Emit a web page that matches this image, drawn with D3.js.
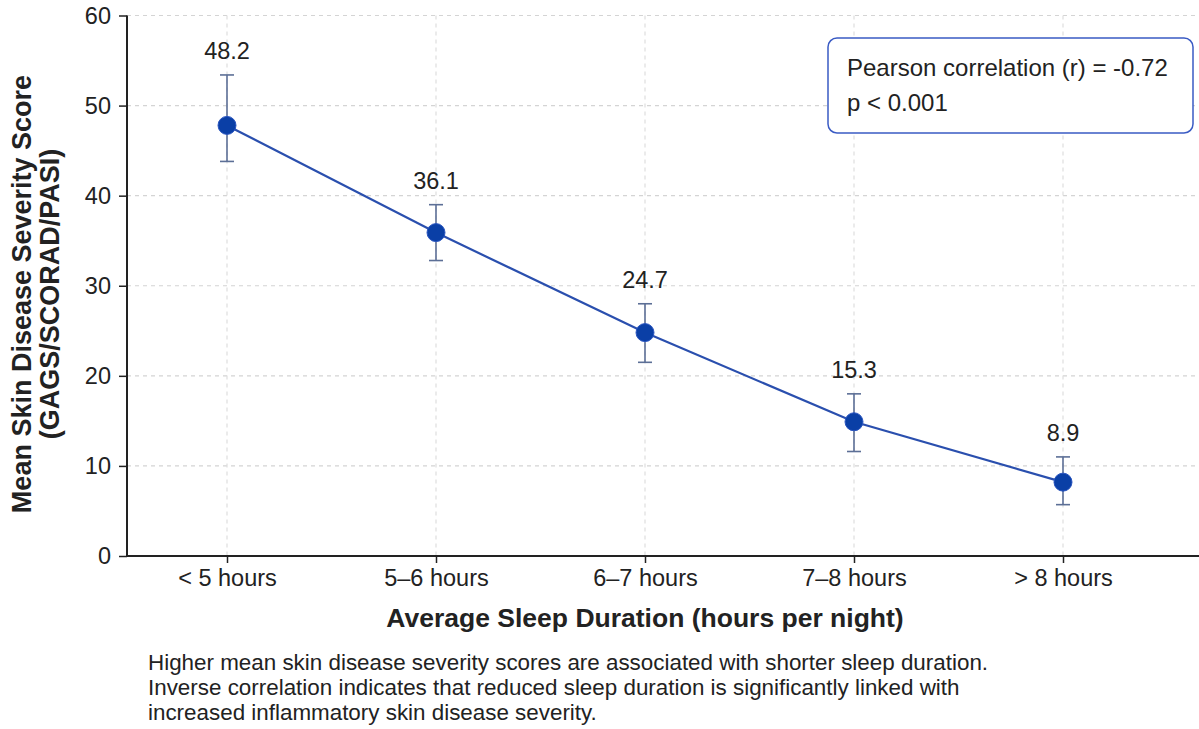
<!DOCTYPE html>
<html>
<head>
<meta charset="utf-8">
<script src="https://cdn.jsdelivr.net/npm/d3@7"></script>
<style>
  html, body { margin: 0; padding: 0; background: #fff; }
  svg { display: block; font-family: "Liberation Sans", Arial, Helvetica, sans-serif; }
</style>
</head>
<body>
<svg id="chart" width="1199" height="729"></svg>
<script>
// ---- data ----
const categories = ["< 5 hours", "5\u20136 hours", "6\u20137 hours", "7\u20138 hours", "> 8 hours"];
const meanScores = [47.8, 35.9, 24.8, 14.9, 8.2];
const valueLabels = ["48.2", "36.1", "24.7", "15.3", "8.9"];
const errUpper = [53.4, 39.0, 28.0, 18.0, 11.0];
const errLower = [43.8, 32.8, 21.5, 11.6, 5.7];
const yTicks = [0, 10, 20, 30, 40, 50, 60];
const annotationLines = ["Pearson correlation (r) = -0.72", "p < 0.001"];
const captionLines = [
  "Higher mean skin disease severity scores are associated with shorter sleep duration.",
  "Inverse correlation indicates that reduced sleep duration is significantly linked with",
  "increased inflammatory skin disease severity."
];
const xTitle = "Average Sleep Duration (hours per night)";
const yTitleLines = ["Mean Skin Disease Severity Score", "(GAGS/SCORAD/PASI)"];

// ---- layout ----
const plotLeft = 127, plotRight = 1199, plotTop = 15.5, plotBottom = 556;
const svg = d3.select("#chart");

const x = d3.scalePoint().domain(categories).range([227, 1063]);
const y = d3.scaleLinear().domain([0, 60]).range([plotBottom, plotTop]);

const data = categories.map((c, i) => ({
  cat: c, mean: meanScores[i], label: valueLabels[i], hi: errUpper[i], lo: errLower[i]
}));

// grid
const grid = svg.append("g").attr("class", "grid");
grid.selectAll("line.h").data(yTicks.filter(t => t > 0)).join("line")
  .attr("x1", plotLeft).attr("x2", plotRight)
  .attr("y1", d => y(d)).attr("y2", d => y(d))
  .attr("stroke", "#d4d4d4").attr("stroke-width", 1.2).attr("stroke-dasharray", "4,4");
grid.selectAll("line.v").data(categories).join("line")
  .attr("x1", d => x(d)).attr("x2", d => x(d))
  .attr("y1", plotTop).attr("y2", plotBottom)
  .attr("stroke", "#dedede").attr("stroke-width", 1.2).attr("stroke-dasharray", "4,4");

// axes
const yAxis = svg.append("g").attr("transform", `translate(${plotLeft},0)`)
  .call(d3.axisLeft(y).tickValues(yTicks).tickSize(8).tickPadding(8).tickFormat(d3.format("d")));
yAxis.select(".domain").attr("stroke", "#222").attr("stroke-width", 2).attr("d", `M0,${plotTop}V${plotBottom}`);
yAxis.selectAll(".tick line").attr("stroke", "#222").attr("stroke-width", 1.5);
yAxis.selectAll(".tick text").attr("font-size", 23.5).attr("fill", "#222").attr("font-family", "Liberation Sans, Arial, sans-serif");

const xAxis = svg.append("g").attr("transform", `translate(0,${plotBottom})`)
  .call(d3.axisBottom(x).tickSize(7).tickPadding(6));
xAxis.select(".domain").attr("stroke", "#222").attr("stroke-width", 2).attr("d", `M${plotLeft},0H${plotRight}`);
xAxis.selectAll(".tick line").attr("stroke", "#222").attr("stroke-width", 1.5);
xAxis.selectAll(".tick text").attr("font-size", 23.5).attr("fill", "#222").attr("font-family", "Liberation Sans, Arial, sans-serif");

// error bars
const eb = svg.append("g");
const ebColor = "#5c6f96";
eb.selectAll("line.stem").data(data).join("line")
  .attr("x1", d => x(d.cat)).attr("x2", d => x(d.cat))
  .attr("y1", d => y(d.hi)).attr("y2", d => y(d.lo))
  .attr("stroke", ebColor).attr("stroke-width", 1.6);
eb.selectAll("line.capT").data(data).join("line")
  .attr("x1", d => x(d.cat) - 7).attr("x2", d => x(d.cat) + 7)
  .attr("y1", d => y(d.hi)).attr("y2", d => y(d.hi))
  .attr("stroke", ebColor).attr("stroke-width", 1.6);
eb.selectAll("line.capB").data(data).join("line")
  .attr("x1", d => x(d.cat) - 7).attr("x2", d => x(d.cat) + 7)
  .attr("y1", d => y(d.lo)).attr("y2", d => y(d.lo))
  .attr("stroke", ebColor).attr("stroke-width", 1.6);

// line
svg.append("path").datum(data)
  .attr("fill", "none").attr("stroke", "#2a4fae").attr("stroke-width", 2.2)
  .attr("d", d3.line().x(d => x(d.cat)).y(d => y(d.mean)));

// points
svg.append("g").selectAll("circle").data(data).join("circle")
  .attr("cx", d => x(d.cat)).attr("cy", d => y(d.mean)).attr("r", 9)
  .attr("fill", "#0a3fa6").attr("stroke", "#2a55c0").attr("stroke-width", 1);

// value labels
svg.append("g").selectAll("text").data(data).join("text")
  .attr("x", d => x(d.cat)).attr("y", d => y(d.hi) - 16)
  .attr("text-anchor", "middle").attr("font-size", 23.5).attr("fill", "#222")
  .text(d => d.label);

// annotation box
const ann = svg.append("g");
ann.append("rect").attr("x", 828).attr("y", 38).attr("width", 365).attr("height", 95)
  .attr("rx", 9).attr("fill", "#fff").attr("stroke", "#3a5bc4").attr("stroke-width", 1.5);
ann.selectAll("text").data(annotationLines).join("text")
  .attr("x", 847).attr("y", (d, i) => 76 + i * 35)
  .attr("font-size", 24).attr("fill", "#222").text(d => d);

// axis titles
svg.append("text").attr("x", 645).attr("y", 627).attr("text-anchor", "middle")
  .attr("font-size", 26.5).attr("font-weight", "bold").attr("fill", "#222").text(xTitle);
svg.append("g").selectAll("text").data(yTitleLines).join("text")
  .attr("transform", (d, i) => `translate(${31 + i * 28},294) rotate(-90)`)
  .attr("text-anchor", "middle").attr("font-size", 27).attr("font-weight", "bold")
  .attr("fill", "#222").text(d => d);

// caption
svg.append("g").selectAll("text").data(captionLines).join("text")
  .attr("x", 148).attr("y", (d, i) => 670 + i * 25)
  .attr("font-size", 22.4).attr("fill", "#222").text(d => d);
</script>
</body>
</html>
